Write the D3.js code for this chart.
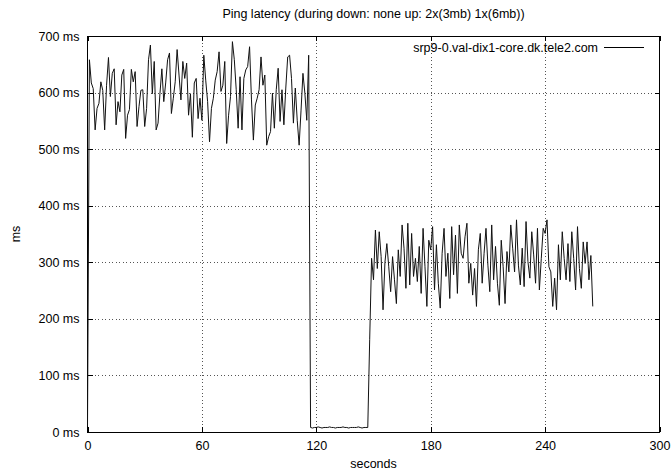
<!DOCTYPE html>
<html>
<head>
<meta charset="utf-8">
<script src="https://cdn.jsdelivr.net/npm/d3@7"></script>
<style>
  html, body { margin: 0; padding: 0; background: #fff; }
  svg { display: block; font-family: "Liberation Sans", Arial, Helvetica, sans-serif; }
</style>
</head>
<body>
<svg id="chart" width="671" height="472"></svg>
<script>
// ---- data ----
const chartTitle = "Ping latency (during down: none up: 2x(3mb) 1x(6mb))";
const seriesName = "srp9-0.val-dix1-core.dk.tele2.com";
const xTicks = [0, 60, 120, 180, 240, 300];
const yTicks = [0, 100, 200, 300, 400, 500, 600, 700];
const sampleIntervalSec = 1;          // one ping per second

// phase 1: uploads running, starts at t = 0 s
const phase1Start = 0;
const phase1Latency = [10, 658, 617, 607, 534, 572, 581, 619, 604, 534, 613, 662, 593, 634, 642, 543, 584,
  566, 631, 641, 519, 560, 570, 641, 619, 637, 540, 575, 604, 605, 540, 572, 658, 684, 598, 655, 534, 546,
  598, 642, 584, 617, 658, 670, 563, 590, 619, 676, 631, 587, 655, 625, 652, 560, 598, 521, 617, 625,
  554, 590, 551, 666, 622, 584, 513, 572, 590, 622, 637, 672, 602, 613, 655, 510, 560, 593, 690, 658, 605,
  537, 628, 534, 625, 640, 646, 681, 587, 516, 578, 590, 605, 663, 613, 631, 507, 522, 531, 599, 537,
  605, 643, 549, 605, 543, 608, 663, 666, 625, 546, 608, 551, 507, 569, 634, 599, 551, 666];
// phase 2: idle gap, starts at t = 117 s
const phase2Start = 117;
const phase2Latency = [8, 7, 8, 8, 9, 8, 7, 8, 8, 8, 9, 8, 8, 7, 8, 8, 8, 9, 8, 8, 7, 8, 8, 8, 8, 9, 8, 7, 8, 8, 8];
// phase 3: traffic again, starts at t = 148 s
const phase3Start = 148;
const phase3Latency = [163, 307, 269, 357, 289, 354, 310, 216, 300, 333, 292, 248, 310, 269, 227, 322, 275, 366, 325,
  254, 369, 260, 351, 275, 307, 266, 328, 245, 360, 292, 222, 339, 322, 363, 251, 331, 263, 219, 316,
  360, 275, 316, 236, 363, 278, 348, 245, 366, 316, 307, 345, 369, 263, 298, 242, 289, 222, 322, 351,
  263, 316, 360, 295, 248, 366, 269, 328, 263, 224, 339, 292, 227, 319, 283, 366, 325, 283, 375, 295,
  260, 325, 257, 372, 301, 272, 354, 313, 263, 360, 251, 307, 360, 351, 375, 292, 283, 222, 272,
  216, 331, 269, 354, 307, 269, 333, 266, 354, 307, 251, 363, 289, 254, 336, 298, 336, 269, 312, 222];

// ---- build points ----
const points = [];
[[phase1Start, phase1Latency], [phase2Start, phase2Latency], [phase3Start, phase3Latency]].forEach(([s, arr]) => {
  arr.forEach((v, i) => points.push({ t: s + i * sampleIntervalSec, v: v }));
});

// ---- layout ----
const svg = d3.select("#chart");
const W = 671, H = 472;
const m = { left: 87.5, right: 11.5, top: 36, bottom: 40 };
const iw = W - m.left - m.right, ih = H - m.top - m.bottom;

const x = d3.scaleLinear().domain([0, 300]).range([m.left, m.left + iw]);
const y = d3.scaleLinear().domain([0, 700]).range([m.top + ih, m.top]);

const fontSize = 12.5;
const tickLen = 5;
const fontFam = '"Liberation Sans", Arial, Helvetica, sans-serif';

// grid
const grid = svg.append("g").attr("class", "grid");
grid.append("g").attr("transform", `translate(0,${m.top + ih})`)
  .call(d3.axisBottom(x).tickValues(xTicks.filter(d => d > 0 && d < 300)).tickSize(-ih).tickFormat(""));
grid.append("g").attr("transform", `translate(${m.left},0)`)
  .call(d3.axisLeft(y).tickValues(yTicks.filter(d => d > 0 && d < 700)).tickSize(-iw).tickFormat(""));
grid.selectAll(".domain").remove();
grid.selectAll("line").attr("stroke", "#555").attr("stroke-width", 1).attr("stroke-dasharray", "1,2.5")
  .attr("shape-rendering", "crispEdges");

// axes (ticks inside)
const xAxis = svg.append("g").attr("transform", `translate(0,${m.top + ih})`)
  .call(d3.axisBottom(x).tickValues(xTicks).tickSize(-tickLen).tickPadding(9).tickFormat(d3.format("d")));
const xTop = svg.append("g").attr("transform", `translate(0,${m.top})`)
  .call(d3.axisTop(x).tickValues(xTicks).tickSize(-tickLen).tickFormat(""));
const yAxis = svg.append("g").attr("transform", `translate(${m.left},0)`)
  .call(d3.axisLeft(y).tickValues(yTicks).tickSize(-tickLen).tickPadding(8).tickFormat(d => d + " ms"));
const yRight = svg.append("g").attr("transform", `translate(${m.left + iw},0)`)
  .call(d3.axisRight(y).tickValues(yTicks).tickSize(-tickLen).tickFormat(""));
[xAxis, xTop, yAxis, yRight].forEach(g => {
  g.selectAll(".domain").remove();
  g.selectAll("line").attr("stroke", "#000").attr("shape-rendering", "crispEdges");
  g.selectAll("text").attr("fill", "#000").style("font-size", fontSize + "px").style("font-family", fontFam);
});

// border
svg.append("rect").attr("x", m.left).attr("y", m.top).attr("width", iw).attr("height", ih)
  .attr("fill", "none").attr("stroke", "#000").attr("stroke-width", 1).attr("shape-rendering", "crispEdges");

// data line
const line = d3.line().x(d => x(d.t)).y(d => y(d.v));
svg.append("path").datum(points).attr("d", line)
  .attr("fill", "none").attr("stroke", "#111").attr("stroke-width", 1).attr("stroke-linejoin", "miter");

// title
svg.append("text").attr("x", m.left + iw / 2).attr("y", 18).attr("text-anchor", "middle")
  .style("font-size", fontSize + "px").text(chartTitle);

// axis labels
svg.append("text").attr("x", m.left + iw / 2).attr("y", 468).attr("text-anchor", "middle")
  .style("font-size", fontSize + "px").text("seconds");
svg.append("text").attr("transform", `translate(20,${m.top + ih / 2}) rotate(-90)`)
  .attr("text-anchor", "middle").style("font-size", fontSize + "px").text("ms");

// legend
const legY = 47;
svg.append("text").attr("x", 598).attr("y", legY + 4.5).attr("text-anchor", "end")
  .style("font-size", fontSize + "px").text(seriesName);
svg.append("line").attr("x1", 604).attr("x2", 644).attr("y1", legY).attr("y2", legY)
  .attr("stroke", "#000").attr("stroke-width", 1).attr("shape-rendering", "crispEdges");
</script>
</body>
</html>
